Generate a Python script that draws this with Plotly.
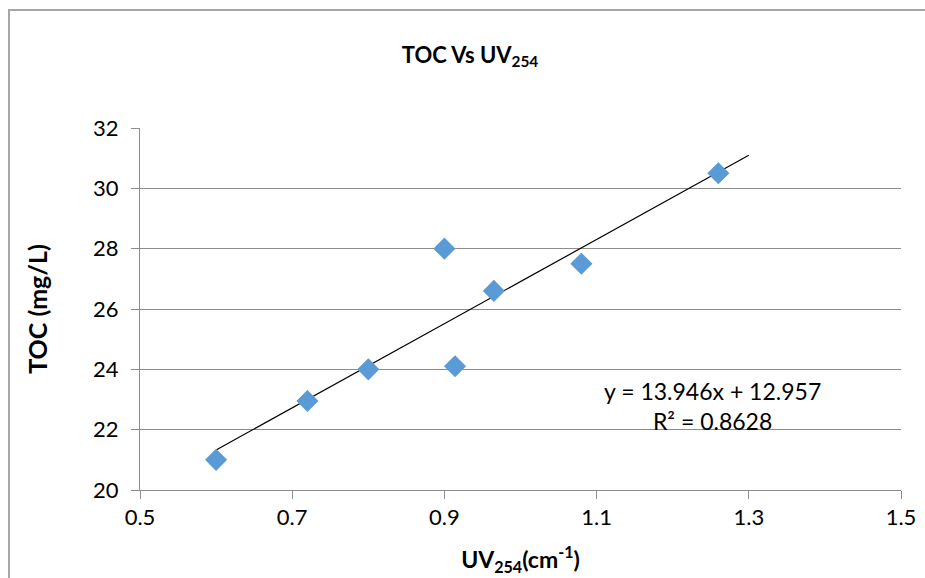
import numpy as np
import plotly.graph_objects as go

uv254 = [0.60, 0.72, 0.80, 0.90, 0.914, 0.965, 1.08, 1.26]
toc = [21.0, 22.95, 24.0, 28.0, 24.1, 26.6, 27.5, 30.5]
trend_x_end = 1.3
x_ticks = [0.5, 0.7, 0.9, 1.1, 1.3, 1.5]
y_ticks = [20, 22, 24, 26, 28, 30, 32]
equation_text = "y = 13.946x + 12.957<br>R² = 0.8628"

slope, intercept = np.polyfit(uv254, toc, 1)
tx = [min(uv254), trend_x_end]
ty = [slope * v + intercept for v in tx]

FONT = "Lato, 'Open Sans', sans-serif"
W, H = 925, 578
L, R, T, B = 140, 24, 128, 88
pw, ph = W - L - R, H - T - B

fig = go.Figure()
fig.add_trace(go.Scatter(x=tx, y=ty, mode="lines",
                         line=dict(color="black", width=1.2),
                         hoverinfo="skip", showlegend=False))
fig.add_trace(go.Scatter(x=uv254, y=toc, mode="markers",
                         marker=dict(symbol="diamond", size=17, color="#5B9BD5",
                                     line=dict(width=0)),
                         showlegend=False))

fig.update_layout(
    width=W, height=H,
    margin=dict(l=L, r=R, t=T, b=B),
    paper_bgcolor="white", plot_bgcolor="white",
    font=dict(family=FONT, size=22, color="black"),
    title=dict(text="<b>TOC Vs UV<sub>254</sub></b>", x=470 / W, xanchor="center",
               y=1 - 55 / H, yanchor="middle", font=dict(size=22)),
    xaxis=dict(range=[0.5, 1.5], tickvals=x_ticks, ticktext=[f"{v:g}" for v in x_ticks],
               showgrid=False, zeroline=False, showline=True, linecolor="#8c8c8c",
               linewidth=1, ticks="outside", ticklen=8, tickcolor="#8c8c8c",
               tickfont=dict(size=22), automargin=False,
               title=dict(text="<b>UV<sub>254</sub>(cm<sup>-1</sup>)</b>", standoff=22,
                          font=dict(size=23))),
    yaxis=dict(range=[20, 32], tickvals=y_ticks, showgrid=True, gridcolor="#8c8c8c",
               gridwidth=1, zeroline=False, showline=True, linecolor="#8c8c8c",
               linewidth=1, ticks="outside", ticklen=8, tickcolor="#8c8c8c",
               tickfont=dict(size=22), ticklabelstandoff=8, automargin=False,
               title=dict(text="<b>TOC (mg/L)</b>", standoff=38, font=dict(size=25))),
    annotations=[dict(text=equation_text, xref="paper", yref="paper",
                      x=(712 - L) / pw, y=1 - (406 - T) / ph, xanchor="center",
                      yanchor="middle", showarrow=False, align="center",
                      font=dict(size=23, color="black"))],
    shapes=[dict(type="rect", xref="paper", yref="paper",
                 x0=(9 - L) / pw, x1=(W + 5 - L) / pw,
                 y0=1 - (H + 5 - T) / ph, y1=1 - (10 - T) / ph,
                 line=dict(color="#a6a6a6", width=2), layer="below")],
)

fig.write_html("out.html", config={"displayModeBar": False},
               post_script="document.body.style.margin='0';document.body.style.overflow='hidden';")
